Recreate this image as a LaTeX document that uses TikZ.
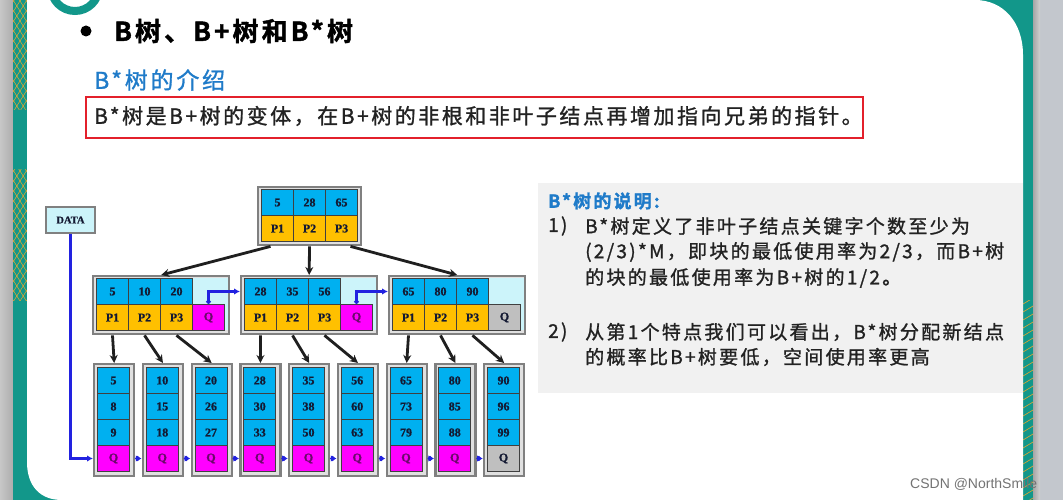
\documentclass[tikz,border=0pt]{standalone}
\usepackage{fontspec}
\setmainfont{Noto Sans CJK SC}
\newfontfamily\cjkls[LetterSpace=12, FakeBold=1.2]{Noto Sans CJK SC}
\newfontfamily\cjkbold[LetterSpace=12, FakeBold=1.5]{Noto Sans CJK SC Bold}
\newfontfamily\tnr[FakeBold=0.8]{Liberation Serif}
\newfontfamily\arialf{Liberation Sans}
\usetikzlibrary{arrows.meta,calc}
\definecolor{teal1}{HTML}{12978A}
\definecolor{keyblue}{HTML}{00B0F0}
\definecolor{porange}{HTML}{FFC000}
\definecolor{qmag}{HTML}{FF00FF}
\definecolor{qgray}{HTML}{BFBFBF}
\definecolor{lcyan}{HTML}{CCF4FA}
\definecolor{linkblue}{HTML}{2222E0}
\definecolor{titleblue}{HTML}{1F7BC9}
\definecolor{panelgray}{HTML}{F1F1F1}
\definecolor{boxred}{HTML}{E3202B}
\definecolor{sidegray}{HTML}{C3C7CD}
\definecolor{hatch}{HTML}{E8A630}
\definecolor{txt}{HTML}{222222}
\definecolor{cellink}{HTML}{141A33}
\definecolor{qink}{HTML}{6A0A6A}
\tikzset{
  cell/.style={draw=black!75, line width=1pt, minimum width=32pt, minimum height=26pt,
    inner sep=0pt, anchor=north west, font=\tnr\bfseries\fontsize{12}{12}\selectfont, text=cellink},
  frame/.style={draw=black!50, fill=black!12, line width=2.4pt, inner sep=0pt, anchor=north west},
  blackarrow/.style={draw=black!88, line width=2.8pt, -{Stealth[length=8pt,width=8pt]}},
  bluelink/.style={draw=linkblue, line width=2.6pt, {Circle[length=4.5pt]}-{Latex[length=6pt,width=6.5pt]}},
  txtnode/.style={anchor=west, inner sep=0pt, text=txt},
}
\begin{document}
\begin{tikzpicture}[x=1pt,y=-1pt]
\useasboundingbox (0,0) rectangle (1063,500);
% ---------- background ----------
\fill[sidegray] (0,0) rectangle (1063,500);
\shade[left color=black!22, right color=black!32] (0,0) rectangle (13,500);
\fill[teal1] (13,0) rectangle (1033,500);
\shade[left color=black!35, right color=black!18] (1033,0) rectangle (1040,500);
\begin{scope}
  \clip (13,0) rectangle (27,110);
  \foreach \t in {-40,-30,...,130} {
    \draw[hatch, line width=0.5pt] (13,\t) -- (27,\t+22);
    \draw[hatch, line width=0.5pt] (13,\t+22) -- (27,\t);
  }
\end{scope}
\begin{scope}
  \clip (13,170) rectangle (27,300);
  \foreach \t in {140,150,...,310} {
    \draw[hatch, line width=0.5pt] (13,\t) -- (27,\t+22);
    \draw[hatch, line width=0.5pt] (13,\t+22) -- (27,\t);
  }
\end{scope}
\begin{scope}
  \clip (1023,300) rectangle (1033,500);
  \foreach \t in {290,298,...,500} {
    \draw[hatch, line width=0.6pt] (1023,\t+6) -- (1033,\t);
  }
\end{scope}
\fill[white] (27,0) -- (975,0) .. controls (1003,0) and (1023,22) .. (1023,55)
  -- (1023,500) -- (62,500) .. controls (40,500) and (27,486) .. (27,462) -- cycle;
\draw[teal1, line width=8pt] (75,-13) circle (24);
% ---------- heading ----------
\node[circle, fill=black, minimum size=11pt, inner sep=0pt] (bullet) at (86,31) {};
\node[txtnode, text=black, font=\cjkbold\fontsize{26}{26}\selectfont] (title) at (114,31) {B树、B+树和B*树};
\node[txtnode, text=titleblue, font=\cjkls\fontsize{23}{23}\selectfont] (sub) at (94,80) {B*树的介绍};
\node[draw=boxred, line width=1.6pt, minimum width=777pt, minimum height=41pt, inner sep=0pt, anchor=north west] (redbox) at (85,96) {};
\node[txtnode, font=\cjkls\fontsize{21}{21}\selectfont] (intro) at (94,116) {B*树是B+树的变体，在B+树的非根和非叶子结点再增加指向兄弟的指针。};
% ---------- right panel ----------
\node[fill=panelgray, minimum width=485pt, minimum height=210pt, inner sep=0pt, anchor=north west] (panel) at (538,183) {};
\node[txtnode, text=titleblue, font=\cjkbold\fontsize{18}{18}\selectfont] (ptitle) at (548,201) {B*树的说明:};
\begin{scope}[every node/.style={txtnode, font=\cjkls\fontsize{19}{19}\selectfont}]
\node (n1) at (548,226) {1)};
\node (l1) at (585,226) {B*树定义了非叶子结点关键字个数至少为};
\node (l2) at (585,252) {(2/3)*M，即块的最低使用率为2/3，而B+树};
\node (l3) at (585,278) {的块的最低使用率为B+树的1/2。};
\node (n2) at (548,332) {2)};
\node (l4) at (585,332) {从第1个特点我们可以看出，B*树分配新结点};
\node (l5) at (585,357) {的概率比B+树要低，空间使用率更高};
\end{scope}
% ---------- tree ----------
\node[draw=black!50, fill=lcyan, line width=2pt, minimum width=49pt, minimum height=26pt, inner sep=0pt,
  anchor=north west, font=\tnr\bfseries\fontsize{10.5}{10.5}\selectfont, text=cellink] (DATA) at (45,206) {DATA};
% root
\node[frame, minimum width=103pt, minimum height=58pt] (root) at (257,186) {};
\foreach \k/\p [count=\i from 0] in {5/P1,28/P2,65/P3} {
  \node[cell, fill=keyblue] (rk\i) at ({261+32*\i},189) {\k};
  \node[cell, fill=porange] (rp\i) at ({261+32*\i},215) {\p};
}
% level 2
\foreach \n/\a/\b/\c/\qc/\qt [count=\j from 0] in {A/5/10/20/qmag/qink, B/28/35/56/qmag/qink, C/65/80/90/qgray/cellink} {
  \node[frame, minimum width=136pt, minimum height=58pt] (\n fr) at ({92+148*\j},275) {};
  \fill[lcyan] ({96+148*\j},278) rectangle ({228+148*\j},330);
  \foreach \k/\p [count=\i from 0] in {\a/P1,\b/P2,\c/P3} {
    \node[cell, fill=keyblue] (\n k\i) at ({96+148*\j+32*\i},278) {\k};
    \node[cell, fill=porange] (\n p\i) at ({96+148*\j+32*\i},304) {\p};
  }
  \node[cell, fill=\qc, text=\qt] (\n Q) at ({192+148*\j},304) {Q};
}
% leaves
\foreach \a/\b/\c/\qc/\qt [count=\i from 1] in {5/8/9/qmag/qink, 10/15/18/qmag/qink, 20/26/27/qmag/qink, 28/30/33/qmag/qink,
    35/38/50/qmag/qink, 56/60/63/qmag/qink, 65/73/79/qmag/qink, 80/85/88/qmag/qink, 90/96/99/qgray/cellink} {
  \node[frame, minimum width=40pt, minimum height=112pt] (leaf\i) at ({93+48.75*(\i-1)},363) {};
  \node[cell, fill=keyblue] (la\i) at ({97+48.75*(\i-1)},367) {\a};
  \node[cell, fill=keyblue] (lb\i) at ({97+48.75*(\i-1)},393) {\b};
  \node[cell, fill=keyblue] (lc\i) at ({97+48.75*(\i-1)},419) {\c};
  \node[cell, fill=\qc, text=\qt] (lq\i) at ({97+48.75*(\i-1)},445) {Q};
}
% root -> level 2
\draw[blackarrow] ($(rp0.south |- root.south)+(-7,0)$) -- (Afr.north);
\draw[blackarrow] (rp1.south |- root.south) -- (Bfr.north);
\draw[blackarrow] ($(rp2.south |- root.south)+(9,0)$) -- (Cfr.north);
% level 2 -> leaves
\foreach \n [count=\j from 0] in {A,B,C} {
  \foreach \i in {0,1,2} {
    \pgfmathtruncatemacro\lf{3*\j+\i+1}
    \draw[blackarrow] (\n p\i.south |- \n fr.south) -- (leaf\lf.north);
  }
}
% sibling links
\draw[bluelink] (AQ.north) |- (Bk0.west -| Bfr.west);
\draw[bluelink] (BQ.north) |- (Ck0.west -| Cfr.west);
\draw[draw=linkblue, line width=2.6pt, -{Latex[length=6pt,width=6.5pt]}] (DATA.south) |- (lq1.west -| leaf1.west);
\foreach \i in {1,...,8} {
  \pgfmathtruncatemacro\nx{\i+1}
  \draw[bluelink] (lq\i.east -| leaf\i.east) -- (lq\nx.west -| leaf\nx.west);
}
% watermark
\node[txtnode, text=black!55, font=\arialf\fontsize{14}{14}\selectfont] (wm) at (910,484) {CSDN @NorthSmile};
\end{tikzpicture}
\end{document}
